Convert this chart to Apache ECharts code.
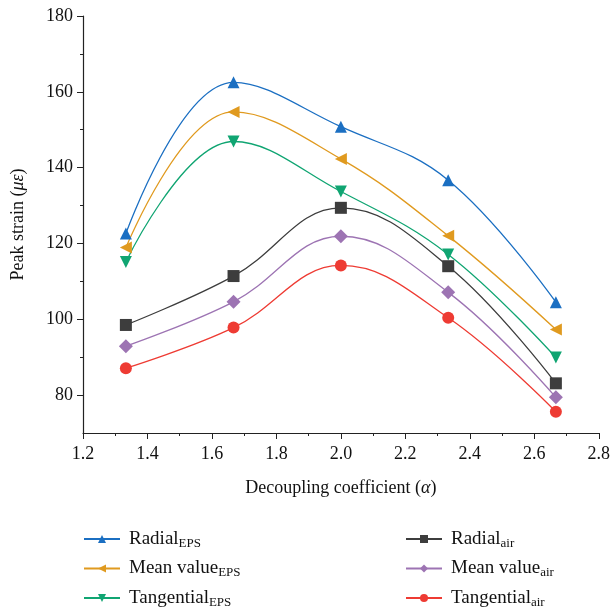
<!DOCTYPE html>
<html>
<head>
<meta charset="utf-8">
<script src="https://cdn.jsdelivr.net/npm/echarts@6/dist/echarts.min.js"></script>
<style>
  html,body{margin:0;padding:0;background:#fff}
  #main{width:613px;height:611px}
</style>
</head>
<body>
<div id="main"></div>
<script>
// decoupling coefficient
const alphas = [1.333, 1.667, 2.0, 2.333, 2.667]
const radialEps = [122.6, 162.5, 150.8, 136.7, 104.5]
const meanEps = [118.9, 154.7, 142.3, 122.0, 97.3]
const tangEps = [115.1, 146.9, 133.7, 117.1, 89.9]
const radialAir = [98.5, 111.4, 129.4, 114.0, 83.1]
const meanAir = [92.9, 104.6, 121.9, 107.1, 79.4]
const tangAir = [87.1, 97.8, 114.2, 100.4, 75.6]
const yLabels = [80, 100, 120, 140, 160, 180]
const yMinor = [90, 110, 130, 150, 170]
const names = ['Radial_EPS', 'Mean value_EPS', 'Tangential_EPS', 'Radial_air', 'Mean value_air', 'Tangential_air']

const font = 'Liberation Serif'
const pairs = ys => alphas.map((a, i) => [a, ys[i]])

function line(name, ys, color, symbol, rotate){
  return {
    name: name,
    type: 'line',
    data: pairs(ys),
    smooth: 0.4,
    symbol: symbol,
    symbolRotate: rotate || 0,
    symbolSize: symbol === 'diamond' ? 14 : 12,
    lineStyle: {color: color, width: 1.3},
    itemStyle: {color: color},
    z: 3
  }
}

const legendRich = {
  a: {fontFamily: font, fontSize: 19, color: '#111', lineHeight: 22},
  s: {fontFamily: font, fontSize: 13, color: '#111', lineHeight: 22, verticalAlign: 'bottom', padding: [10, 0, 0, 0]}
}
function legendFmt(n){
  const p = n.split('_')
  return '{a|' + p[0] + '}{s|' + p[1] + '}'
}
// one legend per entry, two columns of three
const legends = names.map((n, i) => ({
  data: [n],
  left: i < 3 ? 83 : 405,
  top: 527 + (i % 3) * 29.5,
  itemWidth: 36, itemHeight: 10,
  padding: 0,
  formatter: legendFmt,
  textStyle: {rich: legendRich, padding: [0, 0, 0, 4]}
}))

const chart = echarts.init(document.getElementById('main'))
chart.setOption({
  animation: false,
  grid: {left: 83, right: 12, top: 16, bottom: 178},
  legend: legends,
  xAxis: {
    type: 'value', min: 1.2, max: 2.8, interval: 0.2,
    name: 'Decoupling coefficient ({i|α})', nameLocation: 'middle', nameGap: 46,
    nameTextStyle: {fontFamily: font, fontSize: 18, color: '#111',
      rich: {i: {fontFamily: font, fontSize: 18, fontStyle: 'italic', color: '#111'}}},
    axisLine: {lineStyle: {color: '#222', width: 1.2}},
    axisTick: {inside: false, length: 6, lineStyle: {color: '#222'}},
    minorTick: {show: true, splitNumber: 2, length: 3, lineStyle: {color: '#222'}},
    axisLabel: {fontFamily: font, fontSize: 18, color: '#111', margin: 12,
      formatter: v => v.toFixed(1)},
    splitLine: {show: false}
  },
  yAxis: [
    {
      type: 'value', min: 70, max: 180,
      name: 'Peak strain ({i|με})', nameLocation: 'middle', nameGap: 56,
      nameTextStyle: {fontFamily: font, fontSize: 18, color: '#111',
        rich: {i: {fontFamily: font, fontSize: 18, fontStyle: 'italic', color: '#111'}}},
      axisLine: {show: true, lineStyle: {color: '#222', width: 1.2}},
      axisTick: {length: 6, customValues: yLabels, lineStyle: {color: '#222'}},
      axisLabel: {fontFamily: font, fontSize: 18, color: '#111', margin: 10, customValues: yLabels},
      splitLine: {show: false}
    },
    {
      type: 'value', min: 70, max: 180, position: 'left',
      axisLine: {show: false},
      axisTick: {length: 3, customValues: yMinor, lineStyle: {color: '#222'}},
      axisLabel: {show: false},
      splitLine: {show: false}
    }
  ],
  series: [
    line(names[0], radialEps, '#1B6FC2', 'triangle'),
    line(names[1], meanEps, '#E09A1F', 'triangle', 90),
    line(names[2], tangEps, '#10A572', 'triangle', 180),
    line(names[3], radialAir, '#3D3D3D', 'rect'),
    line(names[4], meanAir, '#9D74B3', 'diamond'),
    line(names[5], tangAir, '#EE3B33', 'circle')
  ]
})
</script>
</body>
</html>
